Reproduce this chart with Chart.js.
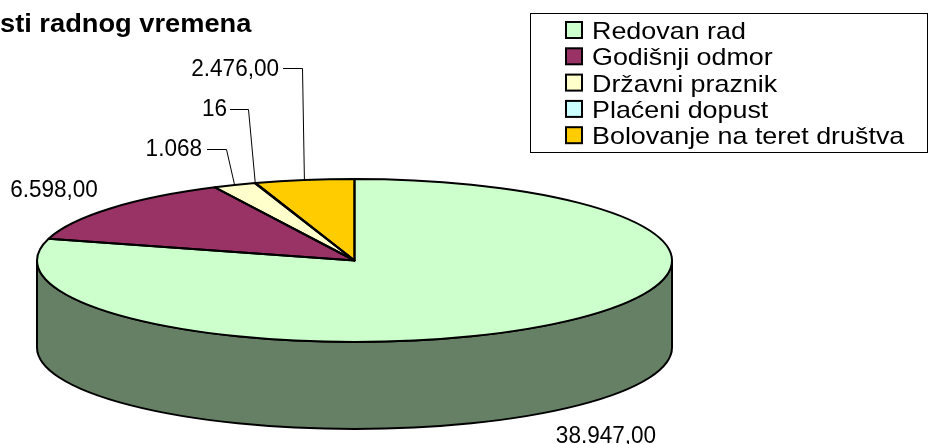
<!DOCTYPE html>
<html><head><meta charset="utf-8">
<script src="https://cdn.jsdelivr.net/npm/chart.js@4/dist/chart.umd.min.js"></script>
<style>html,body{margin:0;padding:0;background:#fff;overflow:hidden}</style>
</head><body>
<canvas id="c" width="928" height="444"></canvas>
<script>
// ---- data ----
const categories = ['Redovan rad', 'Godišnji odmor', 'Državni praznik', 'Plaćeni dopust', 'Bolovanje na teret društva'];
const values = [38947, 6598, 1068, 16, 2476];
const valueLabels = ['38.947,00', '6.598,00', '1.068', '16', '2.476,00'];
const titleText = 'sti radnog vremena';

// ---- styles / layout ----
const topColors = ['#CCFFCC', '#993366', '#FFFFCC', '#CCFFFF', '#FFCC00'];
const sideColors = ['#668066', '#4D1A33', '#808066', '#668080', '#806600'];
const G = { cx: 354.5, cy: 260.5, rx: 317.5, ry: 81.5, depth: 87 };
const labelLayout = [
  { x: 606, y: 443, align: 'center' },
  { x: 54, y: 197, align: 'center' },
  { x: 202, y: 156, align: 'right', elbow: [226, 149], start: 207 },
  { x: 227, y: 116, align: 'right', elbow: [248, 109], start: 230 },
  { x: 279, y: 76, align: 'right', elbow: [302, 68], start: 283 }
];
const FONT = '"Liberation Sans", Arial, sans-serif';

function frontSegments(s, e) {
  const TAU = Math.PI * 2;
  const k = Math.floor(s / TAU);
  s -= k * TAU; e -= k * TAU;
  const segs = [];
  [[0, Math.PI], [TAU, TAU + Math.PI]].forEach(([a, b]) => {
    const lo = Math.max(a, s), hi = Math.min(b, e);
    if (hi > lo) segs.push([lo, hi]);
  });
  return segs;
}
function pt(a, dy) { return [G.cx + G.rx * Math.cos(a), G.cy + (dy || 0) + G.ry * Math.sin(a)]; }

function stretchText(ctx, txt, x, y, font, sx, align) {
  ctx.save();
  ctx.font = font;
  ctx.textAlign = align || 'left';
  ctx.textBaseline = 'alphabetic';
  ctx.translate(x, y);
  ctx.scale(sx, 1);
  ctx.fillStyle = '#000';
  ctx.fillText(txt, 0, 0);
  ctx.restore();
}

const pie3d = {
  id: 'pie3d',
  beforeDatasetsDraw(chart) {
    const ctx = chart.ctx;
    const arcs = chart.getDatasetMeta(0).data;
    ctx.save();
    arcs.forEach((arc, i) => {
      frontSegments(arc.startAngle, arc.endAngle).forEach(([a, b]) => {
        ctx.beginPath();
        ctx.ellipse(G.cx, G.cy, G.rx, G.ry, 0, a, b, false);
        const p = pt(b, G.depth);
        ctx.lineTo(p[0], p[1]);
        ctx.ellipse(G.cx, G.cy + G.depth, G.rx, G.ry, 0, b, a, true);
        ctx.closePath();
        ctx.fillStyle = sideColors[i];
        ctx.fill();
        ctx.lineWidth = 2;
        ctx.strokeStyle = '#000';
        ctx.lineJoin = 'round';
        ctx.stroke();
      });
    });
    ctx.restore();
    const a0 = arcs[0];
    const r = a0.outerRadius;
    ctx.save();
    ctx.translate(G.cx, G.cy);
    ctx.scale(G.rx / r, G.ry / r);
    ctx.translate(-a0.x, -a0.y);
  },
  afterDatasetsDraw(chart) {
    const ctx = chart.ctx;
    ctx.restore();
    const arcs = chart.getDatasetMeta(0).data;
    ctx.save();
    ctx.strokeStyle = '#000';
    ctx.lineWidth = 2;
    ctx.lineJoin = 'round';
    arcs.forEach((arc) => {
      ctx.beginPath();
      ctx.moveTo(G.cx, G.cy);
      const p = pt(arc.startAngle);
      ctx.lineTo(p[0], p[1]);
      ctx.ellipse(G.cx, G.cy, G.rx, G.ry, 0, arc.startAngle, arc.endAngle, false);
      ctx.closePath();
      ctx.stroke();
    });
    ctx.restore();
  },
  afterDraw(chart) {
    const ctx = chart.ctx;
    const arcs = chart.getDatasetMeta(0).data;
    ctx.save();
    arcs.forEach((arc, i) => {
      const L = labelLayout[i];
      if (L.elbow) {
        const mid = (arc.startAngle + arc.endAngle) / 2;
        const p = pt(mid);
        ctx.beginPath();
        ctx.moveTo(L.start, L.elbow[1] + 0.5);
        ctx.lineTo(L.elbow[0] + 0.5, L.elbow[1] + 0.5);
        ctx.lineTo(p[0], p[1]);
        ctx.lineWidth = 1;
        ctx.strokeStyle = '#000';
        ctx.stroke();
      }
      stretchText(ctx, valueLabels[i], L.x, L.y, '23px ' + FONT, 0.98, L.align);
    });
    ctx.restore();
    stretchText(ctx, titleText, 0, 32, 'bold 25px ' + FONT, 1.09, 'left');
    ctx.save();
    ctx.strokeStyle = '#000';
    ctx.lineWidth = 1;
    ctx.strokeRect(530.5, 13.5, 397, 139);
    categories.forEach((c, i) => {
      const cy = 30 + i * 26.3;
      ctx.fillStyle = topColors[i];
      ctx.fillRect(566, cy - 8, 16, 16);
      ctx.lineWidth = 2;
      ctx.strokeRect(566, cy - 8, 16, 16);
      stretchText(ctx, c, 592, cy + 9, '24px ' + FONT, 1.12, 'left');
    });
    ctx.restore();
  }
};

new Chart(document.getElementById('c'), {
  type: 'pie',
  data: {
    labels: categories,
    datasets: [{
      data: values,
      backgroundColor: topColors,
      borderWidth: 0,
      hoverOffset: 0,
      clip: false
    }]
  },
  options: {
    responsive: false,
    animation: false,
    devicePixelRatio: 1,
    rotation: 0,
    plugins: { legend: { display: false }, tooltip: { enabled: false }, title: { display: false } },
    events: []
  },
  plugins: [pie3d]
});
</script>
</body></html>
